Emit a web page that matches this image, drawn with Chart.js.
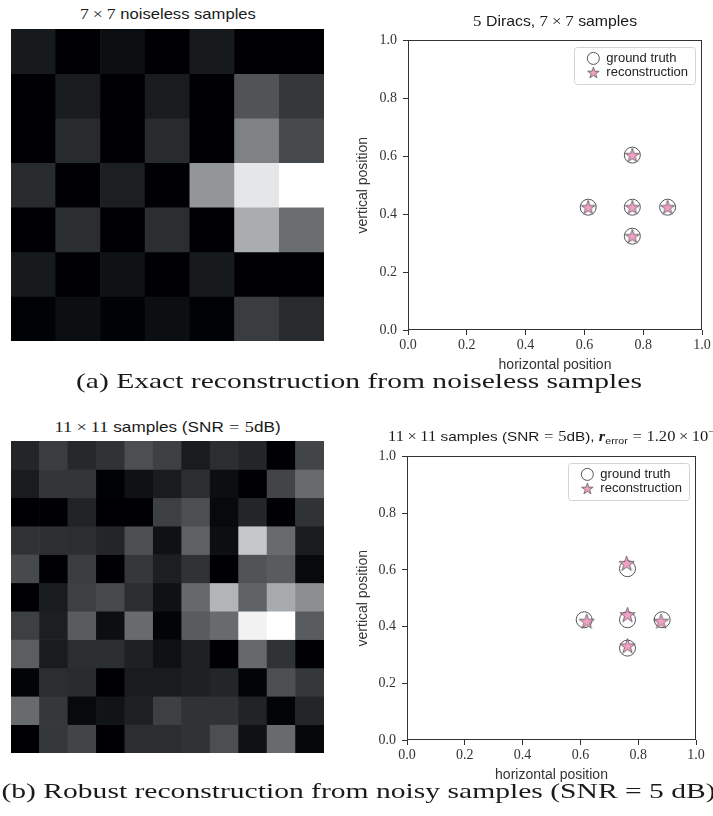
<!DOCTYPE html>
<html>
<head>
<meta charset="utf-8">
<script src="https://cdn.jsdelivr.net/npm/chart.js@4.4.0/dist/chart.umd.min.js"></script>
<style>
    html, body { margin: 0; padding: 0; background: #fff; }
    body { position: relative; width: 713px; height: 816px; overflow: hidden; }
    canvas { position: absolute; }
    .txt { position: absolute; z-index: 2; white-space: nowrap; color: #1a1a1a;
           font: 14.5px/14px "Liberation Sans", sans-serif; }
    .txt > span { display: inline-block; transform-origin: 50% 50%; }
    .m { font-family: "Liberation Serif", serif; font-size: 15.5px; }
    .op { margin: 0 3.5px; }
    .rel { margin: 0 4.5px; }
    .small { font-size: 13px; }
    .small > span { transform-origin: 0 50%; }
    .small .m { font-size: 14px; }
    .small .op { margin: 0 3px; }
    .small .rel { margin: 0 4px; }
    .small sub { font-family: "Liberation Sans", sans-serif; font-size: 9px; line-height: 0; vertical-align: -3px; }
    .small sup { font-size: 10px; line-height: 0; vertical-align: 6px; }
    .cap { left: 0; width: 718px; text-align: center; font: 21px/21px "Liberation Serif", serif; }
</style>
</head>
<body>

<canvas id="heat7" width="313" height="312" style="left:11px; top:29px"></canvas>
<canvas id="scatterA" width="358" height="348" style="left:355px; top:26px"></canvas>
<canvas id="heat11" width="313" height="312" style="left:11px; top:441px"></canvas>
<canvas id="scatterB" width="358" height="342" style="left:355px; top:442px"></canvas>

<div class="txt" style="left:11px; width:313px; top:7px; text-align:center"><span data-w="176"><span class="m">7<span class="op">×</span>7</span> noiseless samples</span></div>
<div class="txt" style="left:408px; width:294px; top:14px; text-align:center"><span data-w="164"><span class="m">5</span> Diracs, <span class="m">7<span class="op">×</span>7</span> samples</span></div>
<div class="txt cap" style="top:371px"><span data-w="566" class="capfit">(a) Exact reconstruction from noiseless samples</span></div>

<div class="txt" style="left:11px; width:313px; top:420px; text-align:center"><span data-w="226"><span class="m">11<span class="op">×</span>11</span> samples (SNR<span class="m"><span class="rel">=</span>5</span>dB)</span></div>
<div class="txt small" style="left:388px; top:430px"><span data-k="1.18"><span class="m">11<span class="op">×</span>11</span> samples (SNR<span class="m"><span class="rel">=</span>5</span>dB), <span class="m"><b><i>r</i></b></span><sub>error</sub><span class="m"><span class="rel">=</span>1.20<span class="op">×</span>10<sup>−2</sup></span></span></div>
<div class="txt cap" style="top:781px"><span class="capfit">(b) Robust reconstruction from noisy samples (SNR = 5 dB)</span></div>

<script>
'use strict';

/**
 * Data
 */

// 7 x 7 noiseless samples, rows top to bottom, normalised intensity
const samples7 = [
    [0.10, 0.00, 0.06, 0.00, 0.10, 0.00, 0.00],
    [0.00, 0.11, 0.00, 0.11, 0.00, 0.33, 0.22],
    [0.00, 0.17, 0.00, 0.17, 0.00, 0.51, 0.29],
    [0.17, 0.00, 0.12, 0.00, 0.59, 0.90, 1.00],
    [0.00, 0.18, 0.00, 0.18, 0.00, 0.68, 0.43],
    [0.10, 0.00, 0.07, 0.00, 0.10, 0.00, 0.00],
    [0.01, 0.06, 0.01, 0.06, 0.01, 0.24, 0.17]
];

// 11 x 11 noisy samples (SNR = 5dB)
const samples11 = [
    [0.15, 0.24, 0.16, 0.20, 0.31, 0.25, 0.11, 0.18, 0.15, 0.00, 0.27],
    [0.11, 0.21, 0.21, 0.01, 0.07, 0.11, 0.18, 0.06, 0.00, 0.27, 0.42],
    [0.00, 0.00, 0.14, 0.00, 0.00, 0.25, 0.31, 0.04, 0.15, 0.00, 0.20],
    [0.20, 0.19, 0.18, 0.15, 0.31, 0.07, 0.38, 0.06, 0.78, 0.42, 0.11],
    [0.29, 0.00, 0.24, 0.00, 0.22, 0.12, 0.20, 0.00, 0.33, 0.36, 0.04],
    [0.00, 0.11, 0.25, 0.29, 0.18, 0.07, 0.41, 0.71, 0.39, 0.67, 0.56],
    [0.25, 0.12, 0.36, 0.06, 0.42, 0.02, 0.36, 0.42, 0.95, 1.00, 0.36],
    [0.37, 0.11, 0.18, 0.18, 0.13, 0.07, 0.13, 0.00, 0.41, 0.20, 0.00],
    [0.02, 0.18, 0.17, 0.00, 0.11, 0.11, 0.13, 0.15, 0.02, 0.31, 0.22],
    [0.42, 0.22, 0.04, 0.08, 0.13, 0.25, 0.20, 0.20, 0.14, 0.02, 0.15],
    [0.00, 0.22, 0.27, 0.00, 0.18, 0.18, 0.20, 0.31, 0.07, 0.42, 0.03]
];

// Dirac positions
const truthX = [0.613, 0.763, 0.763, 0.763, 0.883];
const truthY = [0.424, 0.604, 0.424, 0.324, 0.424];

const exactX = [0.613, 0.763, 0.763, 0.763, 0.883];
const exactY = [0.424, 0.604, 0.424, 0.324, 0.424];

const noisyX = [0.622, 0.760, 0.763, 0.763, 0.879];
const noisyY = [0.419, 0.623, 0.442, 0.332, 0.419];

const axisTicks = [0, 0.2, 0.4, 0.6, 0.8, 1.0];

const SERIF = '"Liberation Serif", serif';
const SANS = '"Liberation Sans", sans-serif';
const INK = '#333333';
const PINK = '#f4a0c6';

/**
 * Helpers
 */

// gray colormap with the faint cool tint of the original
const gray = (v) => {
    const g = Math.round(v * 255);
    const t = Math.min(1, (1 - v) * 3);
    const r = Math.max(0, Math.round(g - 3 * t));
    const b = Math.min(255, Math.round(g + 2 * t));
    return `rgb(${r}, ${g}, ${b})`;
};

const makeStar = (R) => {
    const c = document.createElement('canvas');
    const s = Math.ceil(2 * R + 3);
    c.width = c.height = s;
    const ctx = c.getContext('2d');
    ctx.beginPath();
    for (let i = 0; i < 10; i++) {
        const r = i % 2 ? R * 0.382 : R;
        const a = -Math.PI / 2 + i * Math.PI / 5;
        ctx.lineTo(s / 2 + r * Math.cos(a), s / 2 + 0.6 + r * Math.sin(a));
    }
    ctx.closePath();
    ctx.fillStyle = PINK;
    ctx.fill();
    ctx.lineWidth = 0.8;
    ctx.strokeStyle = '#555';
    ctx.stroke();
    return c;
};

const legendStar = makeStar(6);

const toPoints = (xs, ys) => xs.map((x, i) => ({ x: x, y: ys[i] }));

/**
 * Plugins
 */

// full box around the plot area, like matplotlib spines
const framePlugin = {
    id: 'frame',
    afterDraw(chart) {
        const { ctx, chartArea: ca } = chart;
        ctx.save();
        ctx.strokeStyle = INK;
        ctx.lineWidth = 1;
        ctx.strokeRect(Math.round(ca.left) + 0.5, Math.round(ca.top) + 0.5,
            Math.round(ca.right - ca.left) - 1, Math.round(ca.bottom - ca.top) - 1);
        ctx.restore();
    }
};

// moves the chartArea legend to the upper right and gives it a frame
const legendBoxPlugin = {
    id: 'legendBox',
    afterLayout(chart) {
        const lg = chart.legend;
        const ca = chart.chartArea;
        if (!lg || !lg.legendItems) {
            return;
        }
        const ctx = chart.ctx;
        ctx.save();
        ctx.font = `13px ${SANS}`;
        const textW = Math.max(...lg.legendItems.map(it => ctx.measureText(it.text).width));
        ctx.restore();

        const w = textW + 39;
        const h = 37;
        const x = ca.right - 7 - w;
        const y = ca.top + 7;

        lg.left = x + 11.5;
        lg.top = y + 3.5;
        lg.right = lg.left + lg.width;
        lg.bottom = lg.top + lg.height;
        chart.$legendBox = { x, y, w, h };
    },
    beforeDraw(chart) {
        const b = chart.$legendBox;
        if (!b) {
            return;
        }
        const ctx = chart.ctx;
        const r = 3;
        const x = Math.round(b.x) + 0.5, y = Math.round(b.y) + 0.5, w = Math.round(b.w), h = b.h;
        ctx.save();
        ctx.beginPath();
        ctx.moveTo(x + r, y);
        ctx.arcTo(x + w, y, x + w, y + h, r);
        ctx.arcTo(x + w, y + h, x, y + h, r);
        ctx.arcTo(x, y + h, x, y, r);
        ctx.arcTo(x, y, x + w, y, r);
        ctx.closePath();
        ctx.fillStyle = '#fff';
        ctx.fill();
        ctx.strokeStyle = '#d4d4d4';
        ctx.lineWidth = 1;
        ctx.stroke();
        ctx.restore();
    }
};

/**
 * Charts
 */

const heatmap = (id, grid) => {
    const n = grid.length;
    return new Chart(document.getElementById(id), {
        type: 'bar',
        data: {
            labels: grid[0].map((_v, i) => i),
            datasets: grid.map(row => ({
                data: row.map(() => 1),
                backgroundColor: row.map(gray),
                borderWidth: 0,
                barPercentage: 1,
                categoryPercentage: 1
            }))
        },
        options: {
            responsive: false,
            animation: false,
            events: [],
            layout: { padding: 0 },
            plugins: {
                legend: { display: false },
                tooltip: { enabled: false }
            },
            scales: {
                x: { stacked: true, display: false },
                y: { stacked: true, display: false, min: 0, max: n, reverse: true }
            }
        }
    });
};

const axisOptions = (title, fit) => ({
    type: 'linear',
    min: 0,
    max: 1,
    afterBuildTicks: (scale) => {
        scale.ticks = axisTicks.map(v => ({ value: v }));
    },
    afterFit: fit,
    border: { display: false },
    grid: {
        drawOnChartArea: false,
        drawTicks: true,
        tickLength: 5,
        color: INK,
        lineWidth: 1
    },
    ticks: {
        color: INK,
        font: { family: SERIF, size: 14 },
        padding: 0,
        callback: (v) => Number(v).toFixed(1)
    },
    title: {
        display: true,
        text: title,
        color: INK,
        font: { family: SANS, size: 14 },
        padding: 0
    }
});

const scatter = (id, recoX, recoY, opts) => {
    const x = axisOptions('horizontal position', (s) => { s.height = 44; });
    x.ticks.padding = 2;
    const y = axisOptions('vertical position', (s) => { s.width = opts.yWidth; });
    y.ticks.padding = 6;

    return new Chart(document.getElementById(id), {
        type: 'scatter',
        data: {
            datasets: [
                {
                    label: 'ground truth',
                    data: toPoints(truthX, truthY),
                    pointStyle: 'circle',
                    pointRadius: 8,
                    backgroundColor: 'rgba(255, 255, 255, 0)',
                    borderColor: '#555',
                    borderWidth: 1,
                    order: 1
                },
                {
                    label: 'reconstruction',
                    data: toPoints(recoX, recoY),
                    pointStyle: makeStar(opts.star),
                    pointRadius: opts.star,
                    backgroundColor: PINK,
                    borderColor: '#555',
                    borderWidth: 1,
                    order: 0
                }
            ]
        },
        options: {
            responsive: false,
            animation: false,
            events: [],
            layout: { padding: { top: 9, right: opts.padRight, bottom: 0, left: 0 } },
            plugins: {
                tooltip: { enabled: false },
                legend: {
                    position: 'chartArea',
                    align: 'start',
                    labels: {
                        usePointStyle: true,
                        boxHeight: 8.5,
                        padding: 1,
                        color: '#222',
                        font: { family: SANS, size: 13 },
                        sort: (a, b) => a.datasetIndex - b.datasetIndex,
                        generateLabels: (chart) => {
                            const items = Chart.defaults.plugins.legend.labels.generateLabels(chart);
                            items.forEach(it => {
                                if (it.datasetIndex === 1) {
                                    it.pointStyle = legendStar;
                                }
                            });
                            return items;
                        }
                    }
                }
            },
            scales: { x, y }
        },
        plugins: [framePlugin, legendBoxPlugin]
    });
};

heatmap('heat7', samples7);
heatmap('heat11', samples11);
scatter('scatterA', exactX, exactY, { yWidth: 53, padRight: 11, star: 7.5 });
scatter('scatterB', noisyX, noisyY, { yWidth: 52, padRight: 17, star: 8 });

// stretch titles and captions to the widths of the original Computer Modern text
const stretch = (el, k) => { el.style.transform = `scaleX(${k})`; };
document.querySelectorAll('[data-w]:not(.capfit)').forEach(el => {
    stretch(el, Number(el.dataset.w) / el.getBoundingClientRect().width);
});
document.querySelectorAll('[data-k]').forEach(el => stretch(el, Number(el.dataset.k)));
const capA = document.querySelector('.capfit[data-w]');
const capK = Number(capA.dataset.w) / capA.getBoundingClientRect().width;
document.querySelectorAll('.capfit').forEach(el => stretch(el, capK));
</script>
</body>
</html>
